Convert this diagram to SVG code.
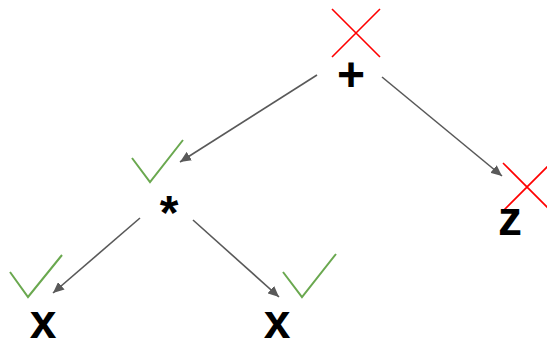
<svg xmlns="http://www.w3.org/2000/svg" width="547" height="340" viewBox="0 0 547 340">
<style>
.lbl{font-family:"Liberation Sans",Arial,sans-serif;font-weight:bold;font-size:48px;fill:#000;text-anchor:middle}
.edge{stroke:#595959;stroke-width:1.6;fill:none;marker-end:url(#ah)}
.chk{stroke:#6aa84f;stroke-width:2;fill:none}
.crs{stroke:#ff0000;stroke-width:1.6;fill:none}
</style>
<defs>
<marker id="ah" markerUnits="userSpaceOnUse" markerWidth="12" markerHeight="10" refX="11" refY="5" orient="auto">
<path d="M0,0 L11,5 L0,10 Z" fill="#595959"/>
</marker>
</defs>
<rect width="547" height="340" fill="#fff"/>
<g id="connectors">
<line class="edge" x1="317" y1="75" x2="180" y2="162"/>
<line class="edge" x1="382" y1="77" x2="502" y2="176"/>
<line class="edge" x1="140" y1="218" x2="53" y2="293"/>
<line class="edge" x1="193" y1="220" x2="279" y2="297"/>
</g>
<g id="node-plus">
<path class="crs" d="M332,9 L380,57 M380,9 L332,57"/>
<text class="lbl" x="351" y="91">+</text>
</g>
<g id="node-times">
<path class="chk" d="M132,158 L150,182 L183,140"/>
<text class="lbl" x="169" y="229">*</text>
</g>
<g id="node-z">
<path class="crs" d="M503,163 L551,211 M551,163 L503,211"/>
<text class="lbl" x="510" y="235">z</text>
</g>
<g id="node-x1">
<path class="chk" d="M10,272 L28,297 L62,255"/>
<text class="lbl" x="43" y="338">x</text>
</g>
<g id="node-x2">
<path class="chk" d="M283,272 L302,297 L336,254"/>
<text class="lbl" x="277" y="338">x</text>
</g>
</svg>
